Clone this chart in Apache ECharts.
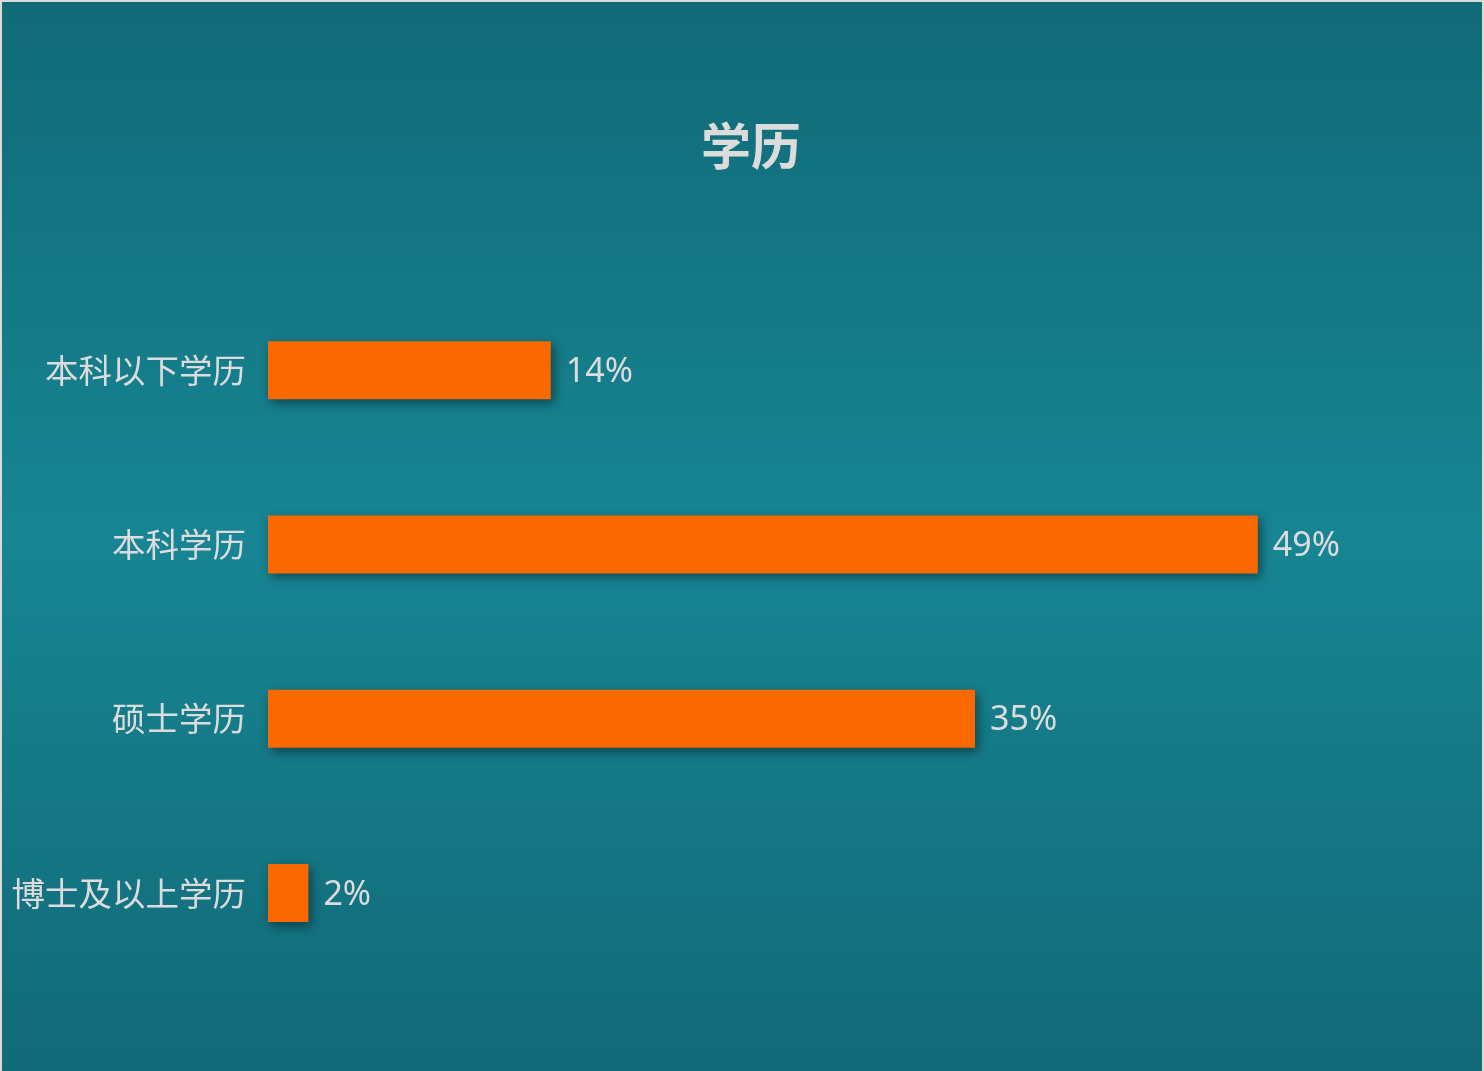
<!DOCTYPE html>
<html>
<head>
<meta charset="utf-8">
<script src="https://cdn.jsdelivr.net/npm/echarts@6/dist/echarts.min.js"></script>
<style>
html,body{margin:0;padding:0;background:#dcdcd6;width:1484px;height:1071px;overflow:hidden;}
#c{position:absolute;left:2px;top:2px;width:1480px;height:1069px;}
</style>
</head>
<body>
<div id="c"></div>
<script>
const titleText = '学历';
const categories = ['本科以下学历', '本科学历', '硕士学历', '博士及以上学历'];
const values = [14, 49, 35, 2];

const chart = echarts.init(document.getElementById('c'));
chart.setOption({
  backgroundColor: {
    type: 'linear', x: 0, y: 0, x2: 0, y2: 1,
    colorStops: [
      { offset: 0, color: '#116a77' },
      { offset: 0.5, color: '#178593' },
      { offset: 1, color: '#126a77' }
    ]
  },
  textStyle: { fontFamily: '"Noto Sans CJK SC", "Noto Sans", sans-serif' },
  title: {
    text: titleText,
    left: 699,
    top: 119,
    padding: 0,
    textStyle: { color: '#dcdcdc', fontSize: 50, fontWeight: 'bold', fontFamily: '"Noto Sans CJK SC", sans-serif' }
  },
  grid: { left: 266, right: 204, top: 281, bottom: 91, containLabel: false },
  xAxis: {
    type: 'value', min: 0, max: 50,
    show: false
  },
  yAxis: {
    type: 'category',
    data: categories,
    inverse: true,
    axisLine: { show: false },
    axisTick: { show: false },
    splitLine: { show: false },
    axisLabel: { color: '#dcdcdc', fontSize: 33.5, margin: 22, fontFamily: '"Noto Sans CJK SC", sans-serif' }
  },
  series: [{
    type: 'bar',
    data: values,
    barWidth: 58,
    itemStyle: {
      color: '#fa6800',
      shadowColor: 'rgba(0,0,0,0.45)',
      shadowBlur: 10,
      shadowOffsetX: 3,
      shadowOffsetY: 4
    },
    label: {
      show: true,
      position: 'right',
      distance: 15,
      offset: [0, 2],
      formatter: '{c}%',
      color: '#dcdcdc',
      fontSize: 34,
      fontFamily: '"Noto Sans", "Noto Sans CJK SC", sans-serif'
    }
  }]
});
</script>
</body>
</html>
